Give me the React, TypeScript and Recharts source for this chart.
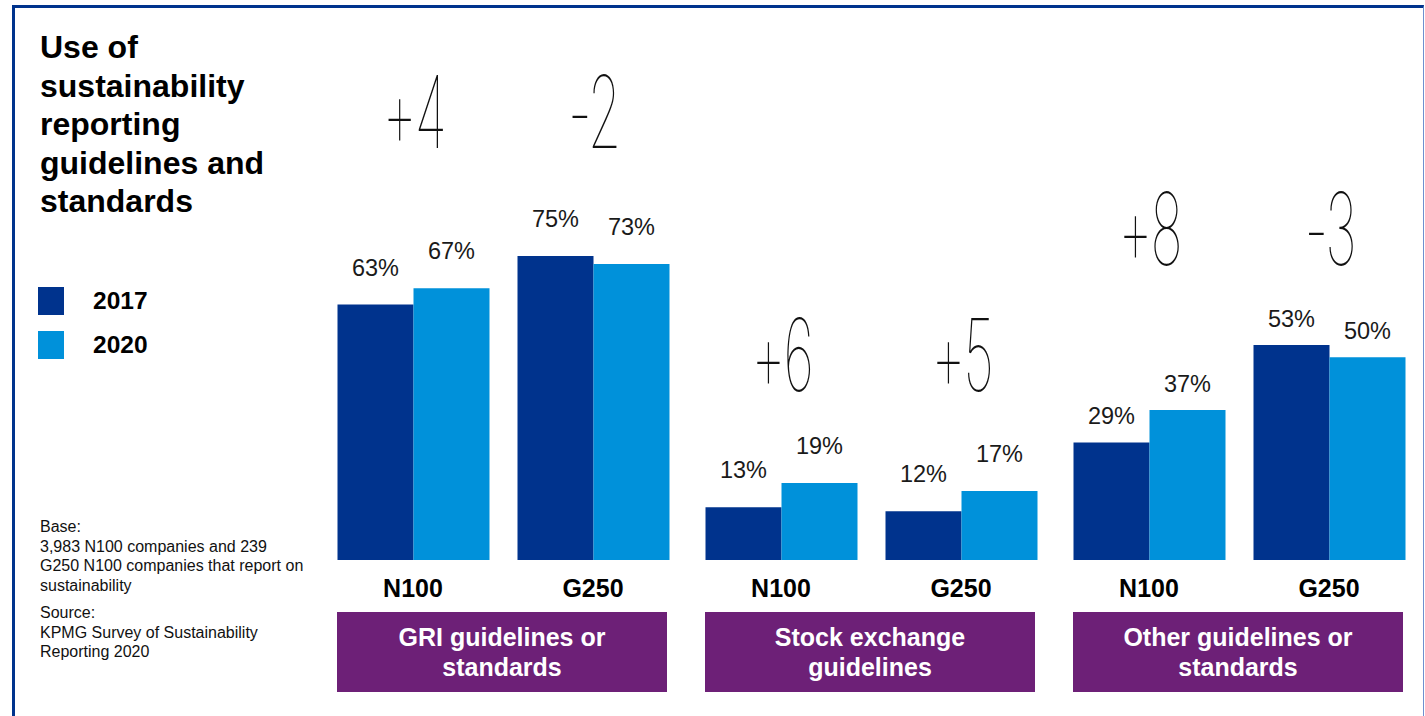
import { Bar, BarChart, LabelList, XAxis, YAxis } from 'recharts'

const sectionNames = [
  ['GRI guidelines or', 'standards'],
  ['Stock exchange', 'guidelines'],
  ['Other guidelines or', 'standards'],
]
const groups = ['N100', 'G250', 'N100', 'G250', 'N100', 'G250']
const share2017 = [63, 75, 13, 12, 29, 53]
const share2020 = [67, 73, 19, 17, 37, 50]
const change = ['+4', '-2', '+6', '+5', '+8', '-3']
const years = ['2017', '2020']

const DARK = '#00338D'
const LIGHT = '#0091DA'
const PURPLE = '#6D2077'
const SANS = '"Liberation Sans", Arial, Helvetica, sans-serif'

// where each section sits, and where its big change numbers go
const layout = [
  { left: 322.5, changeY: 148, labelOffset: 29 },
  { left: 690.5, changeY: 391, labelOffset: 29 },
  { left: 1058.5, changeY: 265, labelOffset: 18 },
]

function changeLabel(baseY: number) {
  return (p: any) => {
    const cx = Number(p.x) + Number(p.width)
    return (
      <g transform={`translate(${cx},${baseY}) scale(0.54,1)`}>
        <text
          textAnchor="middle"
          fontFamily="Inter, Roboto, Lato, sans-serif"
          fontWeight={100}
          fontSize={100}
          letterSpacing={-4}
          fill="#111"
        >
          {p.value}
        </text>
      </g>
    )
  }
}

function Section({ idx }: { idx: number }) {
  const data = [0, 1].map((k) => {
    const i = idx * 2 + k
    return { group: groups[i], y2017: share2017[i], y2020: share2020[i], change: change[i] }
  })
  const lay = layout[idx]
  const pct = { fill: '#1a1a1a', fontSize: 23.5, fontFamily: SANS }
  return (
    <div style={{ position: 'absolute', left: lay.left, top: 0 }}>
      <BarChart
        width={360}
        height={612}
        data={data}
        margin={{ top: 154.5, right: 0, bottom: 0, left: 0 }}
        barCategoryGap={14.5}
        barGap={0}
      >
        <YAxis hide domain={[0, 100]} />
        <XAxis
          dataKey="group"
          axisLine={false}
          tickLine={false}
          tickSize={0}
          tickMargin={19}
          height={52}
          interval={0}
          tick={{ fill: '#000', fontSize: 25, fontWeight: 700, fontFamily: SANS }}
        />
        <Bar dataKey="y2017" fill={DARK} isAnimationActive={false}>
          <LabelList dataKey="y2017" position="top" offset={lay.labelOffset} formatter={(v: any) => `${v}%`} {...pct} />
          <LabelList dataKey="change" content={changeLabel(lay.changeY)} />
        </Bar>
        <Bar dataKey="y2020" fill={LIGHT} isAnimationActive={false}>
          <LabelList dataKey="y2020" position="top" offset={lay.labelOffset} formatter={(v: any) => `${v}%`} {...pct} />
        </Bar>
      </BarChart>
      <div
        style={{
          position: 'absolute',
          left: 14.5,
          top: 612,
          width: 330,
          height: 80,
          background: PURPLE,
          color: '#fff',
          fontFamily: SANS,
          fontWeight: 700,
          fontSize: 25,
          lineHeight: '30px',
          textAlign: 'center',
          display: 'flex',
          flexDirection: 'column',
          justifyContent: 'center',
        }}
      >
        {sectionNames[idx].map((line) => (
          <div key={line}>{line}</div>
        ))}
      </div>
    </div>
  )
}

export default function App() {
  return (
    <div style={{ position: 'relative', width: 1425, height: 716, overflow: 'hidden', background: '#fff', fontFamily: SANS }}>
      <style>{'body{margin:0}'}</style>
      <div
        style={{
          position: 'absolute',
          left: 12,
          top: 5,
          width: 1408,
          height: 730,
          borderLeft: `3px solid ${DARK}`,
          borderTop: `3px solid ${DARK}`,
          borderRight: '1px solid #6f8fcf',
        }}
      />
      <div
        style={{
          position: 'absolute',
          left: 40,
          top: 28,
          fontSize: 32,
          fontWeight: 700,
          lineHeight: '38.5px',
          color: '#000',
        }}
      >
        <div>Use of</div>
        <div>sustainability</div>
        <div>reporting</div>
        <div>guidelines and</div>
        <div>standards</div>
      </div>
      {years.map((yr, i) => (
        <div key={yr} style={{ position: 'absolute', left: 38, top: 287 + i * 44, display: 'flex', alignItems: 'center' }}>
          <div style={{ width: 26, height: 28, background: i === 0 ? DARK : LIGHT }} />
          <div style={{ marginLeft: 29, fontSize: 24.5, fontWeight: 700, color: '#000' }}>{yr}</div>
        </div>
      ))}
      <div style={{ position: 'absolute', left: 40, top: 517, fontSize: 16, lineHeight: '19.5px', color: '#111' }}>
        <div>Base:</div>
        <div>3,983 N100 companies and 239</div>
        <div>G250 N100 companies that report on</div>
        <div>sustainability</div>
        <div style={{ marginTop: 8 }}>Source:</div>
        <div>KPMG Survey of Sustainability</div>
        <div>Reporting 2020</div>
      </div>
      {layout.map((_, idx) => (
        <Section key={idx} idx={idx} />
      ))}
    </div>
  )
}
